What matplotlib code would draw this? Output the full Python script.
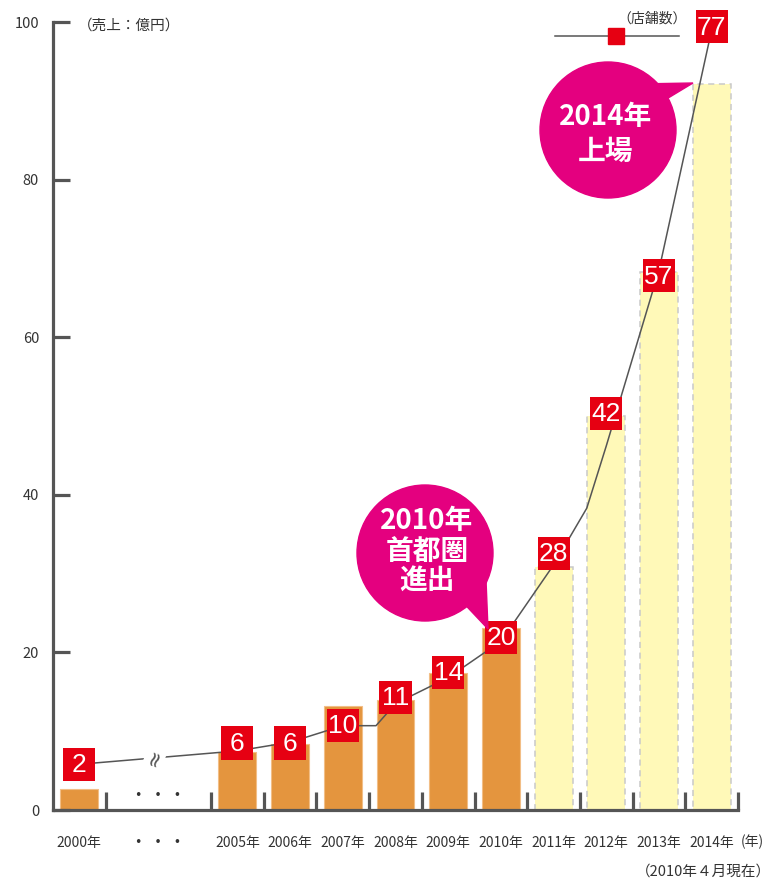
import matplotlib
matplotlib.use("Agg")
import matplotlib.pyplot as plt
import numpy as np
from matplotlib.patches import Rectangle, Circle, Polygon

plt.rcParams['font.family'] = ['Noto Sans CJK JP', 'DejaVu Sans']

# categories on the x axis (the "gap" slot is twice as wide)
categories = ["2000年", "•   •   •", "2005年", "2006年", "2007年", "2008年",
              "2009年", "2010年", "2011年", "2012年", "2013年", "2014年"]
slot_widths = [1, 2, 1, 1, 1, 1, 1, 1, 1, 1, 1, 1]

# sales (億円) - actual up to 2010, plan from 2011
actual_years = ["2000年", "2005年", "2006年", "2007年", "2008年", "2009年", "2010年"]
actual_sales = [2.7, 7.4, 8.4, 13.2, 14.0, 17.4, 23.1]
plan_years = ["2011年", "2012年", "2013年", "2014年"]
plan_sales = [30.8, 50.0, 68.3, 92.1]

# store counts and where their boxes sit on the chart
store_years = ["2000年", "2005年", "2006年", "2007年", "2008年", "2009年",
               "2010年", "2011年", "2012年", "2013年", "2014年"]
stores = [2, 6, 6, 10, 11, 14, 20, 28, 42, 57, 77]
store_label_y = [5.8, 8.5, 8.5, 10.7, 14.3, 17.5, 21.9, 32.6, 50.3, 67.8, 99.4]

# the store-count line as drawn (x in slot units, y on the sales scale)
line_x = [0.5, 3.5, 4.5, 5.5, 6.13, 6.5, 7.5, 8.5, 9.5, 10.13, 10.5, 11.5, 12.5]
line_y = [5.8, 7.5, 8.6, 10.7, 10.7, 13.5, 16.8, 21.4, 31.1, 38.3, 46.2, 68.5, 99.0]

ORANGE = "#E4953E"
PALE = "#FFF9B8"
RED = "#E60012"
MAGENTA = "#E4007F"
AXIS = "#555555"
TEXT = "#333333"

edges = np.concatenate([[0], np.cumsum(slot_widths)])
centers = (edges[:-1] + edges[1:]) / 2
pos = dict(zip(categories, centers))

W, H = 771, 881
fig = plt.figure(figsize=(W / 100, H / 100), dpi=100)
ax = fig.add_axes([53 / W, (H - 810) / H, 685 / W, 788 / H])
ax.set_xlim(0, edges[-1])
ax.set_ylim(0, 100)

bar_w = 0.72
ax.bar([pos[c] for c in actual_years], actual_sales, width=bar_w,
       color=ORANGE, edgecolor="#F2BE86", linewidth=0.8, zorder=1)
ax.bar([pos[c] for c in plan_years], plan_sales, width=bar_w,
       color=PALE, edgecolor="#C9C9C9", linewidth=1.1, linestyle=(0, (4, 3)), zorder=1)

ax.plot(line_x, line_y, color=AXIS, lw=1.1, zorder=3)

# break mark on the line in the gap
bx = 1.93
ax.text(bx, np.interp(bx, line_x, line_y), "≈", rotation=70, ha="center", va="center",
        fontsize=15, color=AXIS, family="DejaVu Sans", zorder=4,
        bbox=dict(boxstyle="square,pad=0.0", fc="white", ec="none"))
ax.text(pos["•   •   •"], 1.8, "•   •   •", ha="center", va="center",
        fontsize=9, color=TEXT, family="DejaVu Sans")

# red store-count boxes
box_w, box_h = 0.61, 4.2
for yr, n, ly in zip(store_years, stores, store_label_y):
    x = pos[yr]
    ax.add_patch(Rectangle((x - box_w / 2, ly - box_h / 2), box_w, box_h,
                           facecolor=RED, edgecolor="none", zorder=5, clip_on=False))
    ax.text(x, ly - 0.1, str(n), ha="center", va="center", color="white",
            fontsize=19, family="Liberation Sans", zorder=6, clip_on=False)

# axes styling
for s in ["top", "right"]:
    ax.spines[s].set_visible(False)
for s in ["left", "bottom"]:
    ax.spines[s].set_color(AXIS)
    ax.spines[s].set_linewidth(2.3)
ax.set_yticks([0, 20, 40, 60, 80, 100])
ax.tick_params(axis="y", direction="in", length=12.5, width=2.3, color=AXIS,
               labelsize=10.5, labelcolor=TEXT, pad=10)
ax.set_xticks(edges[[1] + list(range(2, len(edges)))])
ax.set_xticklabels([])
ax.tick_params(axis="x", which="major", direction="in", length=13, width=2.3, color=AXIS)
ax.set_xticks(centers, minor=True)
ax.set_xticklabels(categories, minor=True)
ax.tick_params(axis="x", which="minor", length=0, labelsize=10, labelcolor=TEXT, pad=19)
ax.get_xticklabels(minor=True)[1].set_family("DejaVu Sans")
ax.get_xticklabels(minor=True)[1].set_fontsize(9)

# overlay in pixel coordinates for bubbles, legend and notes
ov = fig.add_axes([0, 0, 1, 1], zorder=2)
ov.set_xlim(0, W)
ov.set_ylim(H, 0)
ov.axis("off")
ov.patch.set_alpha(0)


def bubble(cx, cy, r, a1, a2, tip):
    ov.add_patch(Circle((cx, cy), r, color=MAGENTA, zorder=1))
    p1 = (cx + r * np.cos(np.radians(a1)), cy + r * np.sin(np.radians(a1)))
    p2 = (cx + r * np.cos(np.radians(a2)), cy + r * np.sin(np.radians(a2)))
    ov.add_patch(Polygon([(cx, cy), p1, tip, p2], closed=True, color=MAGENTA, zorder=1))


bubble(425, 553, 68, 26, 52, (488, 629))
for txt, yy in [("2010年", 521), ("首都圏", 553), ("進出", 581)]:
    ov.text(427, yy, txt, ha="center", va="center", color="white",
            fontsize=20, fontweight="bold", zorder=2)

bubble(608, 130, 68, -43, -28, (693, 83))
for txt, yy in [("2014年", 117), ("上場", 152)]:
    ov.text(606, yy, txt, ha="center", va="center", color="white",
            fontsize=20, fontweight="bold", zorder=2)

# legend
ov.plot([555, 679], [36, 36], color=AXIS, lw=1.1)
ov.plot([616], [36], marker="s", markersize=12, color=RED, lw=0)
ov.text(652, 19, "（店舗数）", ha="center", va="center", fontsize=10, color=TEXT)

ov.text(129, 26, "（売上：億円）", ha="center", va="center", fontsize=10.5, color=TEXT)
ov.text(741, 842, "(年)", ha="left", va="center", fontsize=10, color=TEXT)
ov.text(771, 872, "（2010年４月現在）", ha="right", va="center", fontsize=10.5, color=TEXT)

fig.savefig("out.png", dpi=100)
